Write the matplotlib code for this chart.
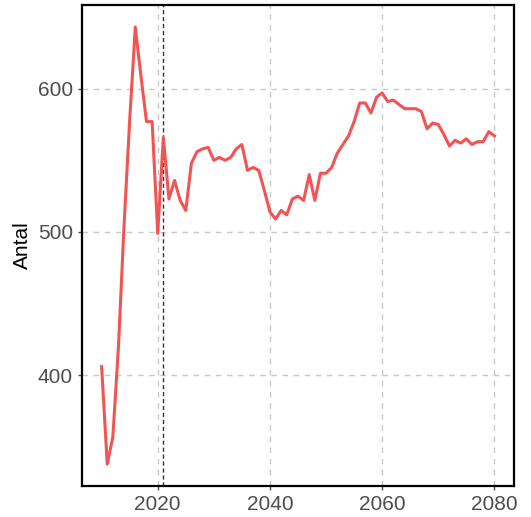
import matplotlib
matplotlib.use("Agg")
import matplotlib.pyplot as plt

plt.rcParams["font.family"] = "Liberation Sans"

# Antal per år, 2010-2080
years = list(range(2010, 2081))
antal = [
    406, 338, 357, 420, 505, 578, 643, 609, 577, 577,
    499, 566, 523, 536, 522, 515, 548, 556, 558, 559,
    550, 552, 550, 552, 558, 561, 543, 545, 543, 529,
    514, 509, 515, 512, 523, 525, 522, 540, 522, 541,
    541, 545, 555, 561, 567, 577, 590, 590, 583, 594,
    597, 591, 592, 589, 586, 586, 586, 584, 572, 576,
    575, 568, 560, 564, 562, 565, 561, 563, 563, 570,
    567,
]
ref_year = 2021
x_ticks = [2020, 2040, 2060, 2080]
y_ticks = [400, 500, 600]

fig = plt.figure(figsize=(5.31, 5.17), dpi=100)
ax = fig.add_axes([0.1544, 0.060, 0.8136, 0.930])

ax.grid(True, color="#c8c8c8", linestyle=(0, (4, 4)), linewidth=1.0)
ax.set_axisbelow(True)
ax.axvline(ref_year, color="#333333", linestyle=(0, (3, 2)), linewidth=1.0)
ax.plot(years, antal, color="#f25454", linewidth=2.2)

x_pad = (max(years) - min(years)) * 0.05
y_pad = (max(antal) - min(antal)) * 0.05
ax.set_xlim(min(years) - x_pad, max(years) + x_pad)
ax.set_ylim(min(antal) - y_pad, max(antal) + y_pad)
ax.set_xticks(x_ticks)
ax.set_yticks(y_ticks)

for s in ax.spines.values():
    s.set_linewidth(1.6)
    s.set_color("black")

ax.tick_params(axis="both", colors="#4d4d4d", labelsize=15, length=3, width=1)
ax.set_ylabel("Antal", fontsize=15, color="black", labelpad=4)

fig.savefig("out.png", dpi=100)
